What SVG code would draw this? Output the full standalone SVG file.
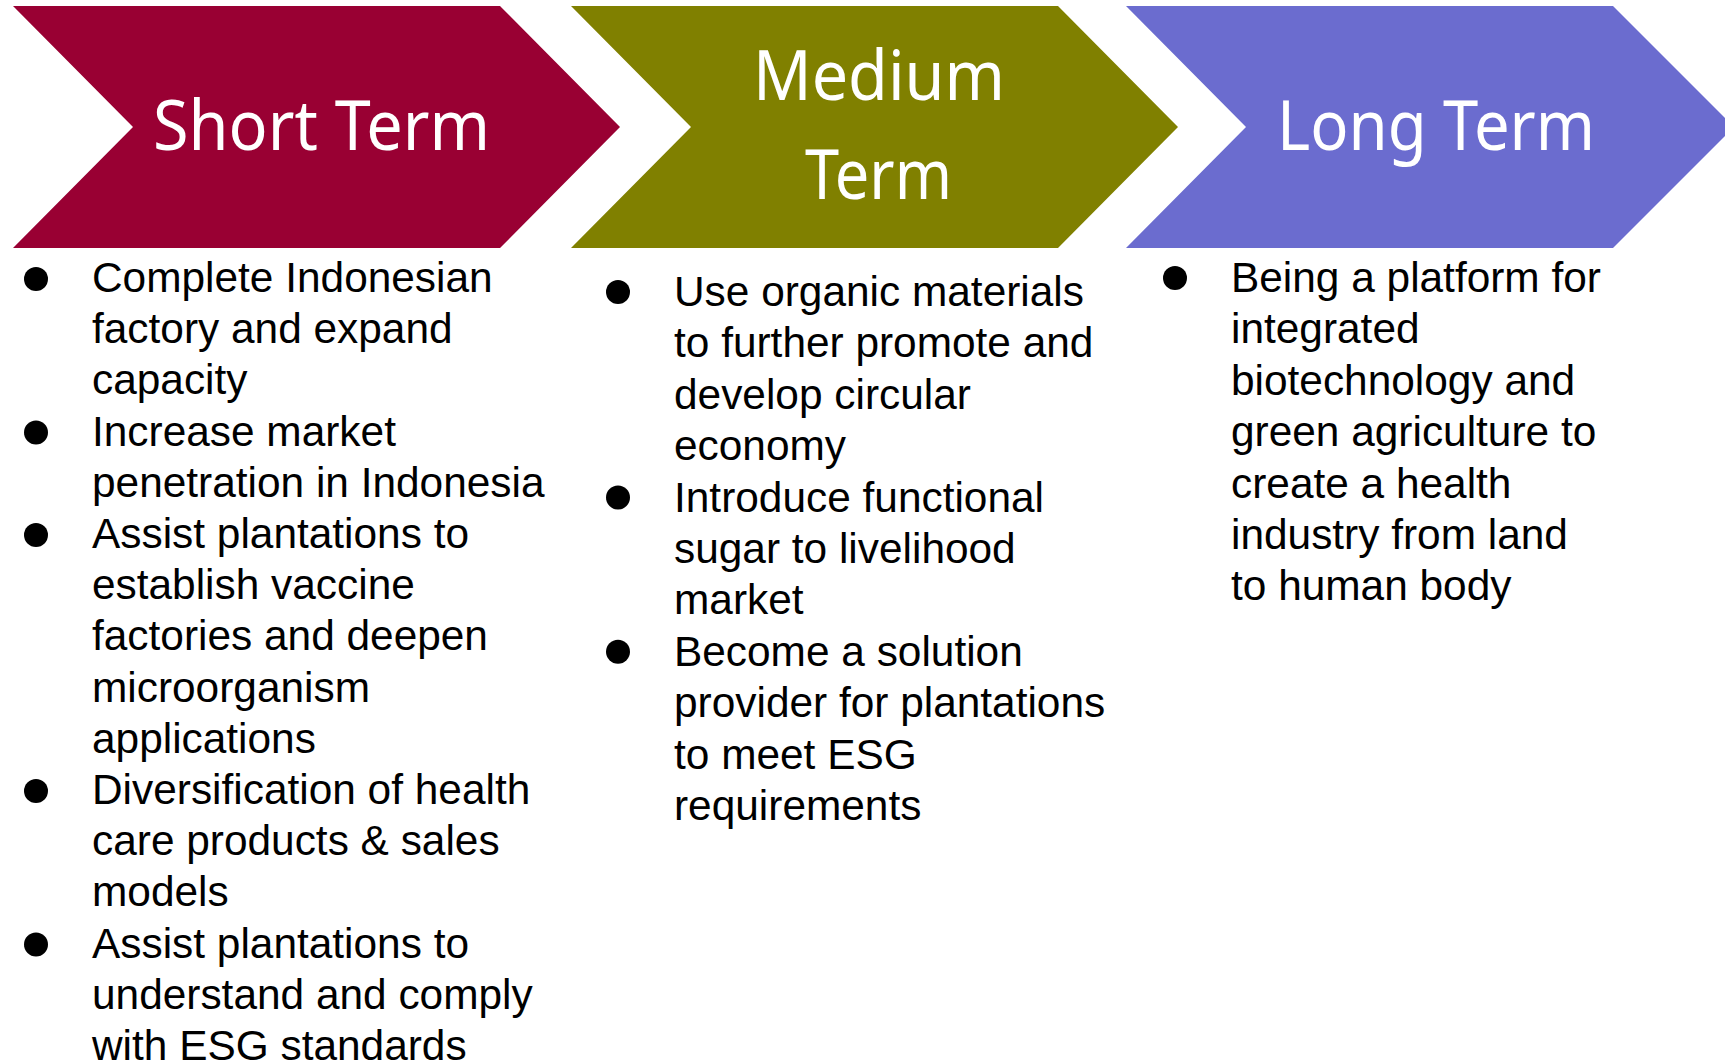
<svg xmlns="http://www.w3.org/2000/svg" width="1725" height="1064" viewBox="0 0 1725 1064">
<style>
.hd{font-family:"Noto Sans","Open Sans","DejaVu Sans",sans-serif;font-size:70px;fill:#ffffff;text-anchor:middle}
.bd{font-family:"Liberation Sans",Arial,sans-serif;font-size:42.4px;fill:#000000}
.bl{fill:#000000}
</style>
<rect x="0" y="0" width="1725" height="1064" fill="#ffffff"/>
<g id="short-term">
<polygon points="13,6 500,6 620,127 500,248 13,248 133,127" fill="#990033"/>
<text class="hd" x="321.5" y="150" textLength="337" lengthAdjust="spacingAndGlyphs">Short Term</text>
<circle class="bl" cx="36" cy="279" r="12"/>
<circle class="bl" cx="36" cy="432.6" r="12"/>
<circle class="bl" cx="36" cy="535" r="12"/>
<circle class="bl" cx="36" cy="791" r="12"/>
<circle class="bl" cx="36" cy="944.6" r="12"/>
<text class="bd" x="92" y="292"><tspan x="92">Complete Indonesian</tspan><tspan x="92" dy="51.2">factory and expand</tspan><tspan x="92" dy="51.2">capacity</tspan><tspan x="92" dy="51.2">Increase market</tspan><tspan x="92" dy="51.2">penetration in Indonesia</tspan><tspan x="92" dy="51.2">Assist plantations to</tspan><tspan x="92" dy="51.2">establish vaccine</tspan><tspan x="92" dy="51.2">factories and deepen</tspan><tspan x="92" dy="51.2">microorganism</tspan><tspan x="92" dy="51.2">applications</tspan><tspan x="92" dy="51.2">Diversification of health</tspan><tspan x="92" dy="51.2">care products &amp; sales</tspan><tspan x="92" dy="51.2">models</tspan><tspan x="92" dy="51.2">Assist plantations to</tspan><tspan x="92" dy="51.2">understand and comply</tspan><tspan x="92" dy="51.2">with ESG standards</tspan></text>
</g>
<g id="medium-term">
<polygon points="571,6 1058,6 1178,127 1058,248 571,248 691,127" fill="#808000"/>
<text class="hd" x="879" y="100" textLength="252" lengthAdjust="spacingAndGlyphs">Medium</text>
<text class="hd" x="878.5" y="199" textLength="147" lengthAdjust="spacingAndGlyphs">Term</text>
<circle class="bl" cx="618" cy="292" r="12"/>
<circle class="bl" cx="618" cy="497.6" r="12"/>
<circle class="bl" cx="618" cy="651.8" r="12"/>
<text class="bd" x="674" y="306"><tspan x="674">Use organic materials</tspan><tspan x="674" dy="51.4">to further promote and</tspan><tspan x="674" dy="51.4">develop circular</tspan><tspan x="674" dy="51.4">economy</tspan><tspan x="674" dy="51.4">Introduce functional</tspan><tspan x="674" dy="51.4">sugar to livelihood</tspan><tspan x="674" dy="51.4">market</tspan><tspan x="674" dy="51.4">Become a solution</tspan><tspan x="674" dy="51.4">provider for plantations</tspan><tspan x="674" dy="51.4">to meet ESG</tspan><tspan x="674" dy="51.4">requirements</tspan></text>
</g>
<g id="long-term">
<polygon points="1126,6 1613,6 1734,127 1613,248 1126,248 1246,127" fill="#6B6CCF"/>
<text class="hd" x="1436" y="150" textLength="318" lengthAdjust="spacingAndGlyphs">Long Term</text>
<circle class="bl" cx="1175" cy="278" r="12"/>
<text class="bd" x="1231" y="292"><tspan x="1231">Being a platform for</tspan><tspan x="1231" dy="51.4">integrated</tspan><tspan x="1231" dy="51.4">biotechnology and</tspan><tspan x="1231" dy="51.4">green agriculture to</tspan><tspan x="1231" dy="51.4">create a health</tspan><tspan x="1231" dy="51.4">industry from land</tspan><tspan x="1231" dy="51.4">to human body</tspan></text>
</g>
</svg>
